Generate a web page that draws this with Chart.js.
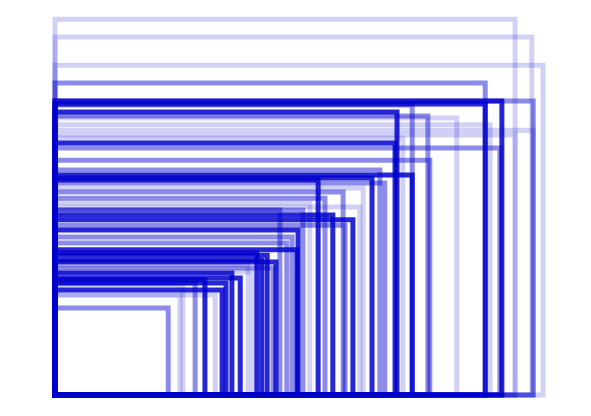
<!DOCTYPE html>
<html>
<head>
<meta charset="utf-8">
<script src="https://cdn.jsdelivr.net/npm/chart.js@4"></script>
<style>
  html, body { margin: 0; padding: 0; background: #fff; }
  #wrap { width: 591px; height: 416px; }
</style>
</head>
<body>
<div id="wrap"><canvas id="rectChart"></canvas></div>
<script>
// Each item is a rectangle anchored at the origin: width (x), height (y), weight level
const widths = [93.9, 97.3, 99.6, 87.8, 91.2, 97.6, 87.8, 69.8, 72.9, 76.1,
                82.0, 88.8, 97.6, 93.9, 71.0, 90.8, 69.4, 76.5, 72.9, 66.3,
                64.7, 67.3, 62.9, 53.7, 58.8, 56.7, 60.8, 62.2, 59.2, 55.1,
                52.0, 50.6, 49.6, 48.4, 45.9, 49.4, 47.3, 45.1, 43.3, 44.5,
                41.2, 40.4, 39.4, 37.8, 36.1, 34.9, 34.1, 32.7, 30.6, 28.6,
                26.1, 25.5, 23.1, 42.2];
const heights = [98.9, 94.2, 86.8, 82.1, 77.4, 77.4, 76.6, 74.5, 76.3, 73.4,
                 72.9, 71.1, 69.7, 68.4, 67.6, 65.0, 66.3, 61.8, 57.9, 59.2,
                 57.1, 55.8, 54.5, 56.6, 53.4, 47.4, 46.1, 49.5, 44.7, 51.8,
                 50.5, 48.7, 43.4, 41.6, 48.7, 38.2, 40.0, 35.0, 36.8, 33.4,
                 37.4, 32.4, 34.2, 30.8, 32.1, 29.5, 27.6, 26.3, 30.3, 29.5,
                 28.9, 26.3, 22.9, 35.5];
const levels = [1, 1, 1, 2, 3, 2, 3, 3, 2, 2,
                1, 1, 1, 1, 1, 2, 3, 2, 3, 2,
                3, 2, 1, 3, 2, 3, 3, 1, 2, 2,
                1, 2, 3, 2, 2, 3, 2, 3, 3, 2,
                3, 1, 1, 3, 3, 3, 3, 1, 3, 2,
                1, 1, 2, 3];

const alphaFor = { 1: 0.18, 2: 0.45, 3: 0.85 };

// one closed outline per rectangle
const datasets = widths.map((w, i) => {
    const h = heights[i];
    return {
        data: [{ x: 0, y: 0 }, { x: 0, y: h }, { x: w, y: h }, { x: w, y: 0 }, { x: 0, y: 0 }],
        borderColor: `rgba(0, 0, 205, ${alphaFor[levels[i]]})`,
        borderWidth: 5,
        borderCapStyle: 'square',
        borderJoinStyle: 'miter',
        pointRadius: 0,
        fill: false,
        tension: 0,
        clip: false
    };
});

const ctx = document.getElementById('rectChart').getContext('2d');
new Chart(ctx, {
    type: 'line',
    data: { datasets: datasets },
    options: {
        responsive: true,
        maintainAspectRatio: false,
        animation: false,
        parsing: true,
        layout: { padding: { left: 55, right: 46, top: 15, bottom: 21 } },
        plugins: {
            legend: { display: false },
            tooltip: { enabled: false }
        },
        scales: {
            x: { type: 'linear', min: 0, max: 100, display: false },
            y: { type: 'linear', min: 0, max: 100, display: false }
        }
    }
});
</script>
</body>
</html>
